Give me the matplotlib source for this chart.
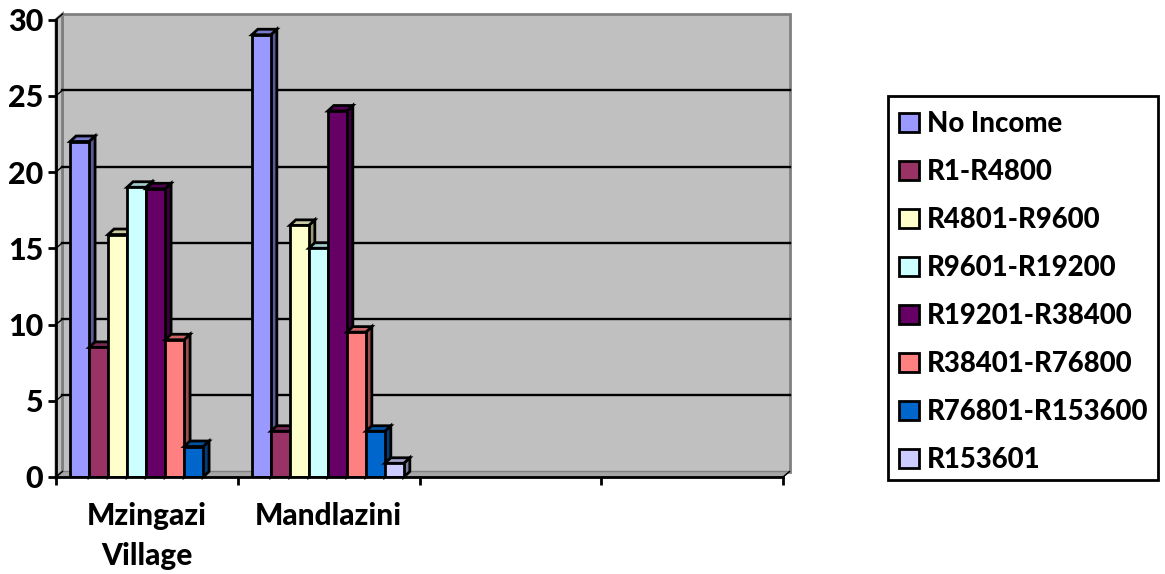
import matplotlib
matplotlib.use('Agg')
import matplotlib.pyplot as plt
from matplotlib.patches import Polygon, Rectangle

# data
categories = ['Mzingazi\nVillage', 'Mandlazini', '', '']
bands = ['No Income', 'R1-R4800', 'R4801-R9600', 'R9601-R19200',
         'R19201-R38400', 'R38401-R76800', 'R76801-R153600', 'R153601']
mzingazi = [22, 8.5, 15.9, 19, 18.9, 9, 2, 0]
mandlazini = [29, 3, 16.5, 15, 24, 9.5, 3, 0.9]
empty = [0, 0, 0, 0, 0, 0, 0, 0]
colors = ['#9999FF', '#993366', '#FFFFCC', '#CCFFFF',
          '#660066', '#FF8080', '#0066CC', '#CCCCFF']
sides = ['#5B5B99', '#5C1F3D', '#99997A', '#7A9999',
         '#3D003D', '#994D4D', '#003D7A', '#7A7A99']
tops = ['#7A7ACC', '#7A2952', '#CCCCA3', '#A3CCCC',
        '#520052', '#CC6666', '#0052A3', '#A3A3CC']
yticks = [0, 5, 10, 15, 20, 25, 30]

W, H = 1165, 574
X0, X1, Y0, Y1 = 56, 783, 477, 19.5   # pixels of plot area
fig = plt.figure(figsize=(W / 100, H / 100), dpi=100)
plt.rcParams['font.family'] = ['Lato', 'DejaVu Sans']
plt.rcParams['font.weight'] = 'black'
ax = fig.add_axes([X0 / W, 1 - Y0 / H, (X1 - X0) / W, (Y0 - Y1) / H])
ax.set_xlim(-0.5, 3.5)
ax.set_ylim(0, 30)
ax.patch.set_visible(False)

# depth of the fake 3d in data units
px = 4 / (X1 - X0)
dx = 6.5 * px
dy = 5.5 * 30 / (Y0 - Y1)
bdx = 6 * px
bdy = 5.5 * 30 / (Y0 - Y1)
width = 19 * px
shift = -0.8 * px
LW = 2
xa, xb = -0.5, 3.5

# walls
ax.add_patch(Polygon([(xa + dx, dy), (xb + dx, dy), (xb + dx, 30 + dy), (xa + dx, 30 + dy)],
                     fc='#C0C0C0', ec='#808080', lw=2, clip_on=False, zorder=1))
ax.add_patch(Polygon([(xa, 0), (xa + dx, dy), (xa + dx, 30 + dy), (xa, 30)],
                     fc='#C0C0C0', ec='#808080', lw=2, clip_on=False, zorder=1))
ax.add_patch(Polygon([(xa, 0), (xb, 0), (xb + dx, dy), (xa + dx, dy)],
                     fc='#A6A6A6', ec='#808080', lw=1, clip_on=False, zorder=1))
for t in yticks[1:-1]:
    ax.plot([xa + dx, xb + dx], [t + dy, t + dy], color='black', lw=1.7, clip_on=False, zorder=2)
for t in yticks:
    ax.plot([xa, xa + dx], [t, t + dy], color='black', lw=1, clip_on=False, zorder=2)
ax.plot([xb, xb + dx], [0, dy], color='black', lw=1, clip_on=False, zorder=2)

# bars
groups = [mzingazi, mandlazini, empty, empty]
z = 3
for i, band in enumerate(bands):
    xs = [g + (i - 3.5) * width + shift for g in range(len(categories))]
    vals = [g[i] for g in groups]
    xs_drawn = [x for x, v in zip(xs, vals) if v > 0]
    vals_drawn = [v for v in vals if v > 0]
    for x, v in zip(xs_drawn, vals_drawn):
        l, r = x - width / 2, x + width / 2
        ax.add_patch(Polygon([(r, 0), (r + bdx, bdy), (r + bdx, v + bdy), (r, v)],
                             fc=sides[i], ec='black', lw=LW, zorder=z, clip_on=False, joinstyle='miter'))
        ax.add_patch(Polygon([(l, v), (l + bdx, v + bdy), (r + bdx, v + bdy), (r, v)],
                             fc=tops[i], ec='black', lw=LW, zorder=z, clip_on=False, joinstyle='miter'))
        z += 1
        ax.bar(x, v, width, color=colors[i], edgecolor='black', lw=LW, zorder=z)
        z += 1

# axes
for s in ['top', 'right']:
    ax.spines[s].set_visible(False)
for s in ['left', 'bottom']:
    ax.spines[s].set_linewidth(LW)
    ax.spines[s].set_zorder(100)
ax.set_yticks(yticks)
ax.set_xticks([-0.5, 0.5, 1.5, 2.5, 3.5])
ax.set_xticklabels([])
ax.set_xticks(range(len(categories)), labels=categories, minor=True)
ax.tick_params(axis='x', which='minor', length=0, pad=18, labelsize=21.5)
ax.tick_params(axis='x', which='major', length=6, width=LW)
ax.tick_params(axis='y', length=6, width=LW, labelsize=22, pad=3)
for lab in ax.get_xticklabels(minor=True):
    lab.set_linespacing(1.5)

# legend box drawn apart so the rows can sit where they do in the original
fig.add_artist(Rectangle((888 / W, 1 - 480 / H), 270 / W, 384 / H, transform=fig.transFigure,
                         fc='white', ec='black', lw=LW))
handles = [plt.Rectangle((0, 0), 1, 1, fc=c, ec='black', lw=LW) for c in colors]
leg = fig.legend(handles, bands, loc='upper left', frameon=False,
                 bbox_to_anchor=(888 / W, 1 - 100 / H), bbox_transform=fig.transFigure,
                 borderaxespad=0, handlelength=0.73, handleheight=0.73,
                 handletextpad=0.3, labelspacing=0.8, borderpad=0.4,
                 prop={'family': ['Lato', 'DejaVu Sans'], 'weight': 'black', 'size': 19.8})

fig.savefig('out.png', dpi=100)
